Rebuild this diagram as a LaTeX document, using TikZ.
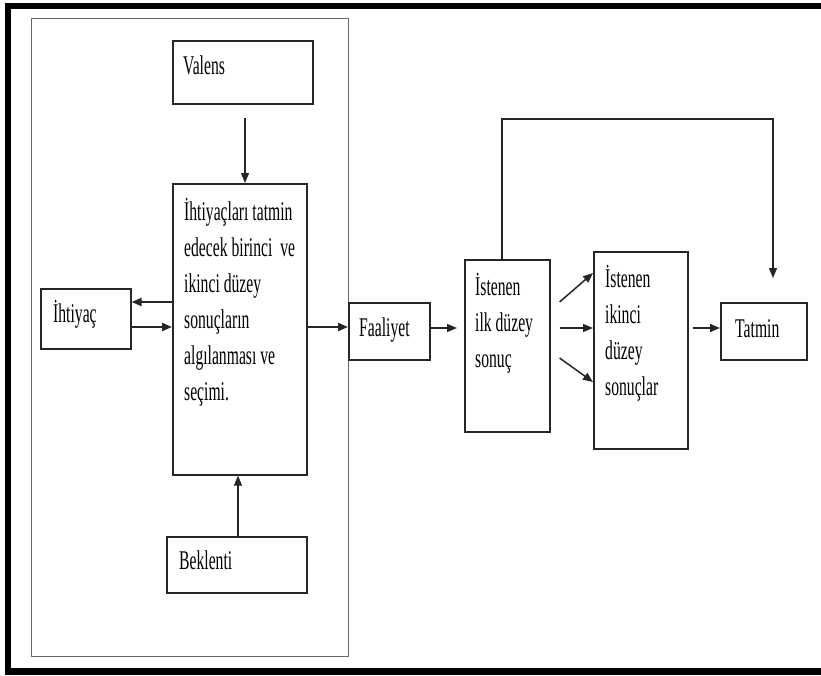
\documentclass[tikz,border=0pt]{standalone}
\usepackage{fontspec}
\setmainfont{Liberation Serif}[FakeStretch=0.58]
\usetikzlibrary{arrows.meta,calc}
\begin{document}
\begin{tikzpicture}[x=1pt,y=-1pt,
  box/.style={draw=black!85,line width=1.6pt,inner sep=0pt,anchor=north west},
  arr/.style={draw=black!85,line width=1.5pt,-{Triangle[length=10pt,width=8pt]}},
  lbl/.style={anchor=base west,inner sep=0pt,font=\fontsize{27}{36}\selectfont}]
\useasboundingbox (0,0) rectangle (821,675);
% outer frame (right side off the picture)
\draw[line width=6.5pt,line join=miter] (821,6) -- (8,6) -- (8,671.5) -- (821,671.5);
% container
\node[draw=black!60,line width=1.4pt,inner sep=0pt,anchor=north west,minimum width=317pt,minimum height=638pt] (cont) at (31,18) {};
% boxes
\node[box,minimum width=140pt,minimum height=63pt] (valens) at (172,40) {};
\node[box,minimum width=134pt,minimum height=291pt] (main) at (172,183) {};
\node[box,minimum width=90pt,minimum height=60pt] (ihtiyac) at (40,288) {};
\node[box,minimum width=81pt,minimum height=57pt] (faaliyet) at (348,302) {};
\node[box,minimum width=85pt,minimum height=172pt] (ist1) at (464,259) {};
\node[box,minimum width=94pt,minimum height=197pt] (ist2) at (593,251) {};
\node[box,minimum width=86pt,minimum height=57pt] (tatmin) at (720,302) {};
\node[box,minimum width=140pt,minimum height=56pt] (beklenti) at (166,536) {};
% texts
\node[lbl] (tvalens) at (183,74) {Valens};
\node[lbl] (tmain) at (184,220) {\parbox[t]{130pt}{\raggedright İhtiyaçları tatmin\\edecek birinci~ ve\\ikinci düzey\\sonuçların\\algılanması ve\\seçimi.}};
\node[lbl] (tihtiyac) at (53,322) {İhtiyaç};
\node[lbl] (tfaaliyet) at (359,336) {Faaliyet};
\node[lbl] (tist1) at (475,295) {\parbox[t]{80pt}{\raggedright İstenen\\ilk düzey\\sonuç}};
\node[lbl] (tist2) at (605,287) {\parbox[t]{80pt}{\raggedright İstenen\\ikinci\\düzey\\sonuçlar}};
\node[lbl] (ttatmin) at (735,337) {Tatmin};
\node[lbl] (tbeklenti) at (179,569) {Beklenti};
% connectors
\coordinate (vs) at (245,118);
\draw[arr,line width=1.2pt] (vs) -- (vs |- main.north);
\draw[arr,line width=1.2pt] (beklenti.north -| 238,0) -- (main.south -| 238,0);
\draw[arr,line width=2pt] (main.west |- 0,302) -- (ihtiyac.east |- 0,302);
\draw[arr,line width=2pt] (ihtiyac.east |- 0,327) -- (main.west |- 0,327);
\draw[arr,line width=2pt] (main.east |- 0,327) -- (faaliyet.west |- 0,327);
\draw[arr] (faaliyet.east |- 0,328) -- ($(ist1.west |- 0,328)+(-7,0)$);
\draw[arr] ($(ist1.east |- 0,302)+(9,0)$) -- (ist2.west |- 0,273);
\draw[arr] ($(ist1.east |- 0,328)+(9,0)$) -- (ist2.west |- 0,328);
\draw[arr] ($(ist1.east |- 0,358)+(9,0)$) -- (ist2.west |- 0,382);
\draw[arr] ($(ist2.east |- 0,328)+(4,0)$) -- (tatmin.west |- 0,328);
\coordinate (fb) at (773,278);
\draw[arr,line width=1.3pt] (ist1.north -| 502,0) -- (502,119) -- (773,119) -- (fb);
\end{tikzpicture}
\end{document}
